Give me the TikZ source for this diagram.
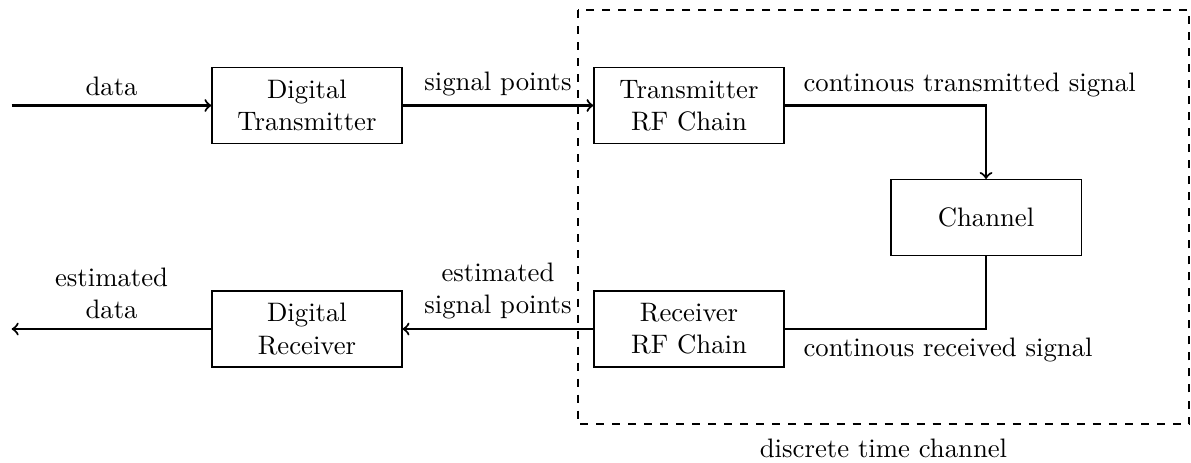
\documentclass[tikz,border=0pt]{standalone}
\usetikzlibrary{calc}
\begin{document}
\begin{tikzpicture}[
  blk/.style={draw, thin, minimum width=2.5cm, minimum height=1cm, align=center},
  arr/.style={thick, ->},
  conn/.style={thick}
]
\useasboundingbox (0,0) rectangle (15.671,-6.092);
\node[blk] (dt) at (4.039,-1.388) {Digital\\Transmitter};
\node[blk] (txrf) at (9.066,-1.388) {Transmitter\\RF Chain};
\node[blk] (ch) at (12.974,-2.862) {Channel};
\node[blk] (rxrf) at (9.066,-4.329) {Receiver\\RF Chain};
\node[blk] (dr) at (4.039,-4.329) {Digital\\Receiver};
\coordinate (in) at (0.154,-1.388);
\coordinate (out) at (0.154,-4.329);
\coordinate (dtl) at (7.601,-0.132);
\coordinate (dbr) at (15.649,-5.583);

\draw[arr] (in) -- node[above] {data} (dt);
\draw[arr] (dt) -- node[above] {signal points} (txrf);
\draw[arr] (txrf.east) -| (ch.north);
\draw[conn] (ch.south) |- (rxrf.east);
\draw[arr] (rxrf) -- node[above, align=center] {estimated\\signal points} (dr);
\draw[arr] (dr) -- node[above, align=center] {estimated\\data} (out);

\node[anchor=base west, inner sep=0pt] (tl) at (10.566,-1.21) {continous transmitted signal};
\node[anchor=base west, inner sep=0pt] (rl) at (10.566,-4.697) {continous received signal};

\draw[thick, dashed] (dtl) rectangle (dbr);
\node[anchor=base] (dl) at ($(dtl)!0.5!(dbr |- dtl) + (0,-5.885)$) {discrete time channel};
\end{tikzpicture}
\end{document}
